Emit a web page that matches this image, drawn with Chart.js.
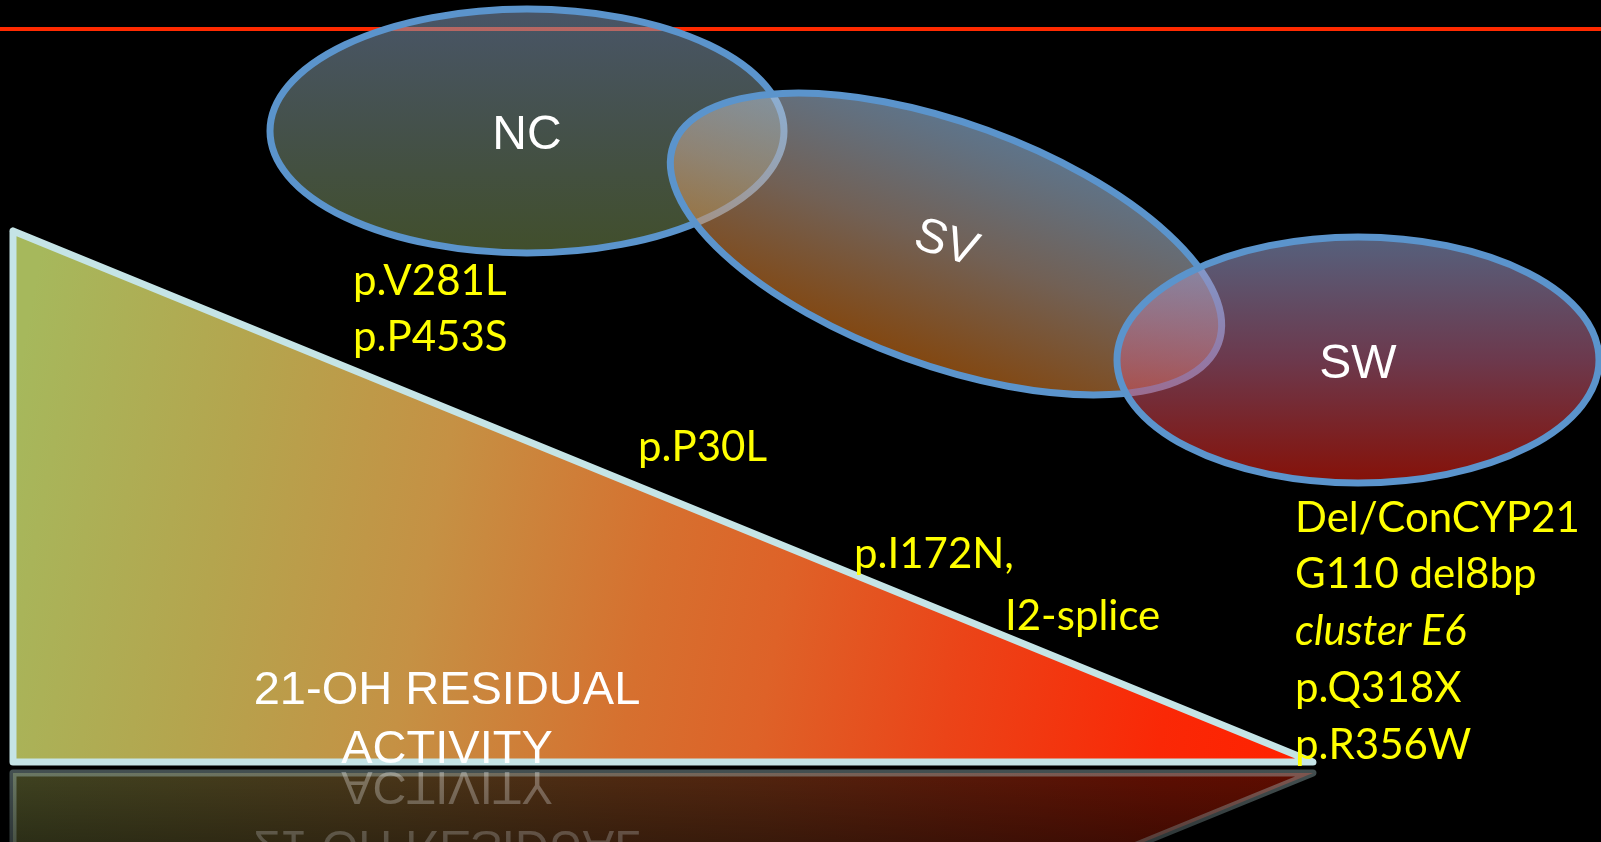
<!DOCTYPE html>
<html>
<head>
<meta charset="utf-8">
<script src="https://cdn.jsdelivr.net/npm/chart.js@4.4.1/dist/chart.umd.min.js"></script>
<style>
html,body{margin:0;padding:0;background:#000;overflow:hidden}
canvas{display:block}
</style>
</head>
<body>
<canvas id="c" width="1601" height="842"></canvas>
<script>
// ---------- data (diagram units) ----------
const groupNames    = ['NC', 'SV', 'SW'];
const groupCentreX  = [527, 946, 1358];
const groupCentreY  = [131, 244, 360];
const groupRadiusX  = [257, 290, 241];
const groupRadiusY  = [122, 121, 123];
const groupTiltDeg  = [0, 20, 0];

const wedgeX = [13, 13, 1313, 13];
const wedgeY = [231, 762, 762, 231];

const ruleX = [0, 1601];
const ruleY = [29, 29];

const mutationLabels = ['p.V281L', 'p.P453S', 'p.P30L', 'p.I172N,', 'I2-splice',
                        'Del/ConCYP21', 'G110 del8bp', 'cluster E6', 'p.Q318X', 'p.R356W'];
const mutationX = [353, 353, 638, 854, 1005, 1295, 1295, 1295, 1295, 1295];
const mutationY = [295, 351, 461, 568, 630, 532, 588, 645, 702, 759];
const mutationItalic = [false, false, false, false, false, false, false, true, false, false];

const wedgeTitle  = ['21-OH RESIDUAL', 'ACTIVITY'];
const wedgeTitleX = [447, 447];
const wedgeTitleY = [704, 763];
const mirrorLine = 767.5;

// ---------- styles ----------
const wedgeStops = [
  [0.00, 'rgb(166,184,92)'], [0.17, 'rgb(180,165,78)'], [0.33, 'rgb(197,145,68)'],
  [0.50, 'rgb(214,112,47)'], [0.60, 'rgb(222,98,40)'], [0.74, 'rgb(235,68,24)'],
  [0.90, 'rgb(250,40,6)'], [1.00, 'rgb(255,34,0)']
];
const groupStops = [
  [[0, 'rgba(128,150,182,0.57)'], [0.5, 'rgba(120,142,130,0.57)'], [1, 'rgba(114,138,76,0.57)']],
  [[0, 'rgba(165,205,245,0.57)'], [0.5, 'rgba(200,170,150,0.57)'], [1, 'rgba(230,125,28,0.57)']],
  [[0, 'rgba(150,170,220,0.57)'], [0.5, 'rgba(190,100,135,0.57)'], [1, 'rgba(235,30,14,0.57)']]
];

function wedgeGradient(ctx, x, y) {
  const g = ctx.createLinearGradient(x.getPixelForValue(wedgeX[0]), y.getPixelForValue(400),
                                     x.getPixelForValue(wedgeX[2]), y.getPixelForValue(640));
  wedgeStops.forEach(s => g.addColorStop(s[0], s[1]));
  return g;
}

const diagramPlugin = {
  id: 'diagram',
  beforeDatasetsDraw(chart) {
    const {ctx, scales: {x, y}} = chart;
    const px = v => x.getPixelForValue(v), py = v => y.getPixelForValue(v);
    const m = py(mirrorLine);
    ctx.save();
    ctx.beginPath();
    ctx.rect(0, m, chart.width, chart.height - m);
    ctx.clip();
    ctx.save();
    ctx.translate(0, 2 * m);
    ctx.scale(1, -1);
    ctx.globalAlpha = 0.38;
    ctx.beginPath();
    wedgeX.forEach((wx, i) => {
      const X = px(wx), Y = py(wedgeY[i]);
      if (i === 0) ctx.moveTo(X, Y); else ctx.lineTo(X, Y);
    });
    ctx.closePath();
    ctx.fillStyle = wedgeGradient(ctx, x, y);
    ctx.fill();
    ctx.lineWidth = 7;
    ctx.lineJoin = 'round';
    ctx.strokeStyle = '#b4d2d6';
    ctx.stroke();
    ctx.fillStyle = '#ffffff';
    ctx.globalAlpha = 0.32;
    ctx.font = '47px "Liberation Sans", Arial, sans-serif';
    ctx.textAlign = 'center';
    ctx.textBaseline = 'alphabetic';
    wedgeTitle.forEach((t, i) => ctx.fillText(t, px(wedgeTitleX[i]), py(wedgeTitleY[i])));
    ctx.restore();
    const fade = ctx.createLinearGradient(0, m, 0, chart.height);
    fade.addColorStop(0, 'rgba(0,0,0,0)');
    fade.addColorStop(1, 'rgba(0,0,0,0.32)');
    ctx.fillStyle = fade;
    ctx.fillRect(0, m, chart.width, chart.height - m);
    ctx.restore();
  },
  afterDatasetsDraw(chart) {
    const {ctx, scales: {x, y}} = chart;
    const px = v => x.getPixelForValue(v), py = v => y.getPixelForValue(v);

    // ellipses
    groupNames.forEach((name, i) => {
      const cx = px(groupCentreX[i]), cy = py(groupCentreY[i]);
      const rx = Math.abs(px(groupCentreX[i] + groupRadiusX[i]) - cx);
      const ry = Math.abs(py(groupCentreY[i] + groupRadiusY[i]) - cy);
      ctx.save();
      ctx.translate(cx, cy);
      ctx.rotate(groupTiltDeg[i] * Math.PI / 180);
      const g = ctx.createLinearGradient(0, -ry, 0, ry);
      groupStops[i].forEach(s => g.addColorStop(s[0], s[1]));
      ctx.beginPath();
      ctx.ellipse(0, 0, rx, ry, 0, 0, Math.PI * 2);
      ctx.fillStyle = g;
      ctx.fill();
      ctx.lineWidth = 7;
      ctx.strokeStyle = '#5b94cc';
      ctx.stroke();
      ctx.restore();
    });

    // group names
    ctx.save();
    ctx.fillStyle = '#ffffff';
    ctx.textAlign = 'center';
    ctx.textBaseline = 'middle';
    groupNames.forEach((name, i) => {
      ctx.save();
      ctx.translate(px(groupCentreX[i]), py(groupCentreY[i]));
      if (name === 'SV') {
        ctx.rotate(18 * Math.PI / 180);
        ctx.font = '48px "Liberation Sans", Arial, sans-serif';
        ctx.fillText(name, 0, 0);
      } else {
        ctx.font = '48px "Liberation Sans", Arial, sans-serif';
        ctx.fillText(name, 0, 5);
      }
      ctx.restore();
    });
    ctx.restore();

    // wedge title
    ctx.save();
    ctx.fillStyle = '#ffffff';
    ctx.font = '47px "Liberation Sans", Arial, sans-serif';
    ctx.textAlign = 'center';
    ctx.textBaseline = 'alphabetic';
    wedgeTitle.forEach((t, i) => ctx.fillText(t, px(wedgeTitleX[i]), py(wedgeTitleY[i])));
    ctx.restore();

    // mutation labels
    ctx.save();
    ctx.fillStyle = '#ffff00';
    ctx.textAlign = 'left';
    ctx.textBaseline = 'alphabetic';
    mutationLabels.forEach((t, i) => {
      ctx.font = (mutationItalic[i] ? 'italic ' : '') + '42px Lato, "Open Sans", sans-serif';
      ctx.fillText(t, px(mutationX[i]), py(mutationY[i]));
    });
    ctx.restore();
  }
};

new Chart(document.getElementById('c'), {
  type: 'scatter',
  data: {
    datasets: [
      {
        label: 'rule',
        data: ruleX.map((v, i) => ({x: v, y: ruleY[i]})),
        showLine: true,
        borderColor: '#ff2a00',
        borderWidth: 4,
        pointRadius: 0,
        fill: false
      },
      {
        label: '21-OH residual activity',
        data: wedgeX.map((v, i) => ({x: v, y: wedgeY[i]})),
        showLine: true,
        borderColor: '#c5e4e6',
        borderWidth: 7,
        borderJoinStyle: 'round',
        borderCapStyle: 'round',
        pointRadius: 0,
        tension: 0,
        fill: 'shape',
        backgroundColor: (c) => {
          const ch = c.chart;
          if (!ch.chartArea) return 'rgba(0,0,0,0)';
          return wedgeGradient(ch.ctx, ch.scales.x, ch.scales.y);
        }
      }
    ]
  },
  options: {
    responsive: false,
    devicePixelRatio: 1,
    animation: false,
    layout: {padding: 0},
    plugins: {legend: {display: false}, tooltip: {enabled: false}},
    scales: {
      x: {type: 'linear', min: 0, max: 1601, display: false},
      y: {type: 'linear', min: 0, max: 842, reverse: true, display: false}
    },
    elements: {line: {clip: false}}
  },
  plugins: [diagramPlugin]
});
</script>
</body>
</html>
